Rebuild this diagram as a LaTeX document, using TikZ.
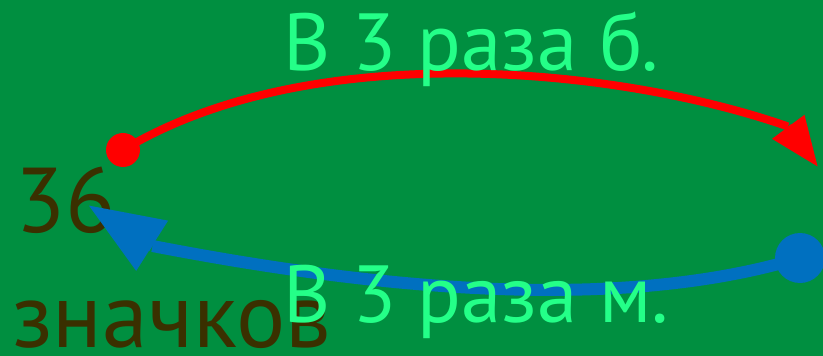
\documentclass[tikz,border=0pt]{standalone}
\usepackage{fontspec}
\setmainfont{PT Sans}
\usetikzlibrary{arrows.meta}
\definecolor{bggreen}{RGB}{0,143,64}
\definecolor{lightgreen}{RGB}{36,255,136}
\definecolor{darkolive}{RGB}{58,48,0}
\definecolor{arrowblue}{RGB}{0,112,192}
\tikzset{
  label/.style={anchor=base west, inner sep=0pt, text=lightgreen, font=\fontsize{81}{81}\selectfont},
  count/.style={anchor=base west, inner sep=0pt, text=darkolive, font=\fontsize{92}{92}\selectfont},
  dot/.style={circle, inner sep=0pt, draw=none},
  upper/.style={draw=red, line width=8pt},
  lower/.style={draw=arrowblue, line width=12pt},
  uppertip/.style={upper, -{Triangle[length=50pt,width=38pt]}},
  lowertip/.style={lower, -{Triangle[length=76pt,width=56pt]}}
}
\begin{document}
\begin{tikzpicture}[x=1pt, y=-1pt]
  \fill[bggreen] (0,0) rectangle (823,356);
  \useasboundingbox (0,0) rectangle (823,356);

  % quantity on the left
  \node[count] (num) at (15,232) {36};
  \node[count] (unit) at (12,347) {значков};

  % end points of the two arcs; each head is turned against its arc
  \node[dot, fill=red, minimum size=34pt] (rdot) at (123,150) {};
  \coordinate (rbase) at (788,126.5);
  \coordinate (rtip) at (818,167);
  \node[dot, fill=arrowblue, minimum size=50pt] (bdot) at (800,258) {};
  \coordinate (bbase) at (152.5,246);
  \coordinate (btip) at (88,205);

  % upper arc: forward operation
  \draw[upper] (rdot.center) .. controls (311.6,36.7) and (618,67) .. (rbase);
  \draw[uppertip] (rbase) -- (rtip);
  % lower arc: inverse operation
  \draw[lower] (bdot.center) .. controls (627.6,309.7) and (398,293.5) .. (bbase);
  \draw[lowertip] (bbase) -- (btip);

  % operation labels
  \node[label] (fwd) at (283,70) {В 3 раза б.};
  \node[label] (bwd) at (283,322) {В 3 раза м.};
\end{tikzpicture}
\end{document}
